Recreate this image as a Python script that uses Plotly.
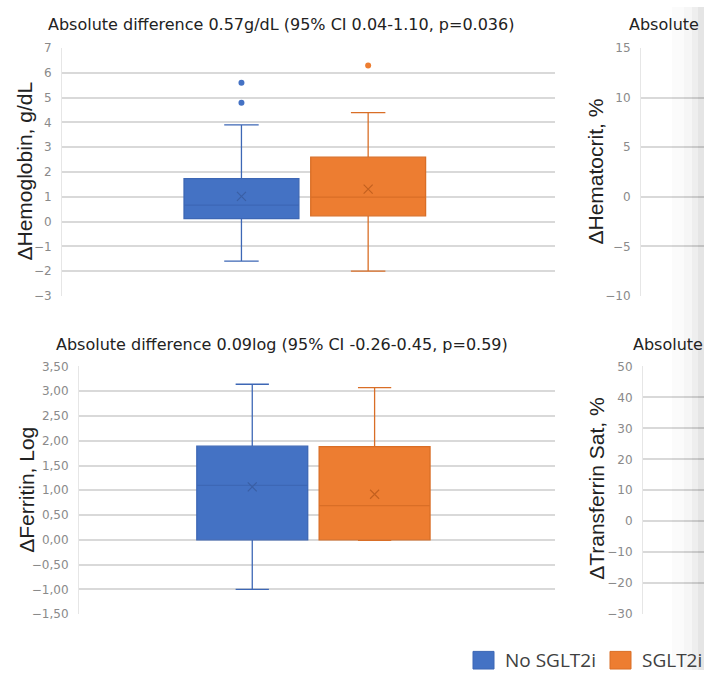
import plotly.graph_objects as go

# ---------------- data ----------------
groups = ["No SGLT2i", "SGLT2i"]

hb_q1 = [0.12, 0.23]
hb_median = [0.66, 0.99]
hb_q3 = [1.73, 2.60]
hb_lower = [-1.6, -2.0]
hb_upper = [3.9, 4.4]
hb_mean = [1.02, 1.31]
hb_outliers = [[5.6, 4.8], [6.3]]

fer_q1 = [0.0, 0.0]
fer_median = [1.10, 0.69]
fer_q3 = [1.89, 1.88]
fer_lower = [-1.0, -0.01]
fer_upper = [3.14, 3.07]
fer_mean = [1.07, 0.92]
fer_outliers = [[], []]

title_hb = "Absolute difference 0.57g/dL (95% CI 0.04-1.10, p=0.036)"
title_fer = "Absolute difference 0.09log (95% CI -0.26-0.45, p=0.59)"
title_right = "Absolute"
ylab_hb = "\u0394Hemoglobin, g/dL"
ylab_fer = "\u0394Ferritin, Log"
ylab_hct = "\u0394Hematocrit, %"
ylab_tsat = "\u0394Transferrin Sat, %"

# ---------------- style ----------------
W, H = 704, 677
fill_colors = ["#4472C4", "#ED7D31"]
line_colors = ["#3D67B5", "#D96E26"]
mean_colors = ["#3A5FA5", "#C4611F"]
offsets = [-0.136, 0.121]
box_width = 0.233
grid_col = "#d9d9d9"
tick_font = dict(family="DejaVu Sans", size=12, color="#8a8a8a")
title_font = dict(family="DejaVu Sans", size=16, color="#222222")
axtitle_font = dict(family="Liberation Sans", size=21, color="#222222")


def px(x):
    return x / W


def py(y):
    return 1 - y / H


fig = go.Figure()


def add_panel(ax, q1, med, q3, lo, hi, mean, outl):
    xa = "x" + ("" if ax == 1 else str(ax))
    ya = "y" + ("" if ax == 1 else str(ax))
    for i, g in enumerate(groups):
        fig.add_trace(go.Box(
            x=[offsets[i]], q1=[q1[i]], median=[med[i]], q3=[q3[i]],
            lowerfence=[lo[i]], upperfence=[hi[i]],
            width=box_width, whiskerwidth=0.3,
            fillcolor=fill_colors[i], line=dict(color=line_colors[i], width=1.3),
            boxpoints=False, name=g, showlegend=False,
            xaxis=xa, yaxis=ya, hoverinfo="skip"))
        fig.add_trace(go.Scatter(
            x=[offsets[i]], y=[mean[i]], mode="markers",
            marker=dict(symbol="x-thin", size=9,
                        line=dict(color=mean_colors[i], width=1.2)),
            showlegend=False, xaxis=xa, yaxis=ya, hoverinfo="skip"))
        if outl[i]:
            fig.add_trace(go.Scatter(
                x=[offsets[i]] * len(outl[i]), y=outl[i], mode="markers",
                marker=dict(symbol="circle", size=6, color=fill_colors[i]),
                showlegend=False, xaxis=xa, yaxis=ya, hoverinfo="skip"))


add_panel(1, hb_q1, hb_median, hb_q3, hb_lower, hb_upper, hb_mean, hb_outliers)
add_panel(3, fer_q1, fer_median, fer_q3, fer_lower, fer_upper, fer_mean, fer_outliers)

# right-hand panels (their boxes lie outside the visible crop); placeholder traces
for xa, ya in [("x2", "y2"), ("x4", "y4")]:
    fig.add_trace(go.Scatter(x=[None], y=[None], mode="markers", showlegend=False,
                             xaxis=xa, yaxis=ya, hoverinfo="skip"))


def yax(domain, rng, dtick, fmt, anchor):
    return dict(domain=domain, range=rng, dtick=dtick, tick0=rng[0],
                tickformat=fmt, showgrid=True, gridcolor=grid_col, gridwidth=1.6,
                zeroline=False, showline=True, linecolor="#e6e6e6", linewidth=1,
                ticks="", ticklabelstandoff=7, tickfont=tick_font,
                anchor=anchor, fixedrange=True)


def xax(domain, anchor):
    return dict(domain=domain, range=[-0.5, 0.5], showticklabels=False,
                showgrid=False, zeroline=False, showline=False, ticks="",
                anchor=anchor, fixedrange=True)


ytop = [py(295), py(42)]
ybot = [py(620), py(367)]

fig.update_layout(
    width=W, height=H,
    margin=dict(l=0, r=0, t=0, b=0),
    paper_bgcolor="white", plot_bgcolor="white",
    separators=",.",
    showlegend=False,
    xaxis=xax([px(62), px(555)], "y"),
    yaxis=yax(ytop, [-3, 7], 1, "d", "x"),
    xaxis2=xax([px(641), 1.0], "y2"),
    yaxis2=yax(ytop, [-10, 15], 5, "d", "x2"),
    xaxis3=xax([px(79), px(555)], "y3"),
    yaxis3=yax(ybot, [-1.5, 3.5], 0.5, ".2f", "x3"),
    xaxis4=xax([px(643), 1.0], "y4"),
    yaxis4=yax(ybot, [-30, 50], 10, "d", "x4"),
)

ann = []
ann.append(dict(text=title_hb, x=px(281), y=py(18), xref="paper", yref="paper",
                xanchor="center", yanchor="middle", showarrow=False, font=title_font))
ann.append(dict(text=title_fer, x=px(282), y=py(345), xref="paper", yref="paper",
                xanchor="center", yanchor="middle", showarrow=False, font=title_font))
ann.append(dict(text=title_right, x=px(627), y=py(18), xref="paper", yref="paper",
                xanchor="left", yanchor="middle", showarrow=False, font=title_font))
ann.append(dict(text=title_right, x=px(631), y=py(345), xref="paper", yref="paper",
                xanchor="left", yanchor="middle", showarrow=False, font=title_font))
for t, x, y in [(ylab_hb, 25, 168), (ylab_fer, 27, 493), (ylab_hct, 596, 168), (ylab_tsat, 597, 492)]:
    ann.append(dict(text=t, x=px(x), y=py(y), xref="paper", yref="paper", textangle=-90,
                    xanchor="center", yanchor="middle", showarrow=False, font=axtitle_font))

# legend (manual, Excel-like large squares)
leg_sq_x = [473, 610]
shapes = []
for i, g in enumerate(groups):
    shapes.append(dict(type="rect", xref="paper", yref="paper",
                       x0=px(leg_sq_x[i]), x1=px(leg_sq_x[i] + 21),
                       y0=py(676), y1=py(658), fillcolor=fill_colors[i],
                       line=dict(color=line_colors[i], width=1)))
    ann.append(dict(text=g, x=px(leg_sq_x[i] + 30), y=py(667), xref="paper", yref="paper",
                    xanchor="left", yanchor="middle", showarrow=False,
                    font=dict(family="Open Sans", size=19, color="#404040")))

# page-fold shadow at right edge
for x0, op in [(672, 0.015), (684, 0.02), (692, 0.03), (698, 0.035)]:
    shapes.append(dict(type="rect", xref="paper", yref="paper", x0=px(x0), x1=1.0,
                       y0=0, y1=1, fillcolor="black", opacity=op, line=dict(width=0),
                       layer="above"))

fig.update_layout(annotations=ann, shapes=shapes)

fig.write_html("out.html")
